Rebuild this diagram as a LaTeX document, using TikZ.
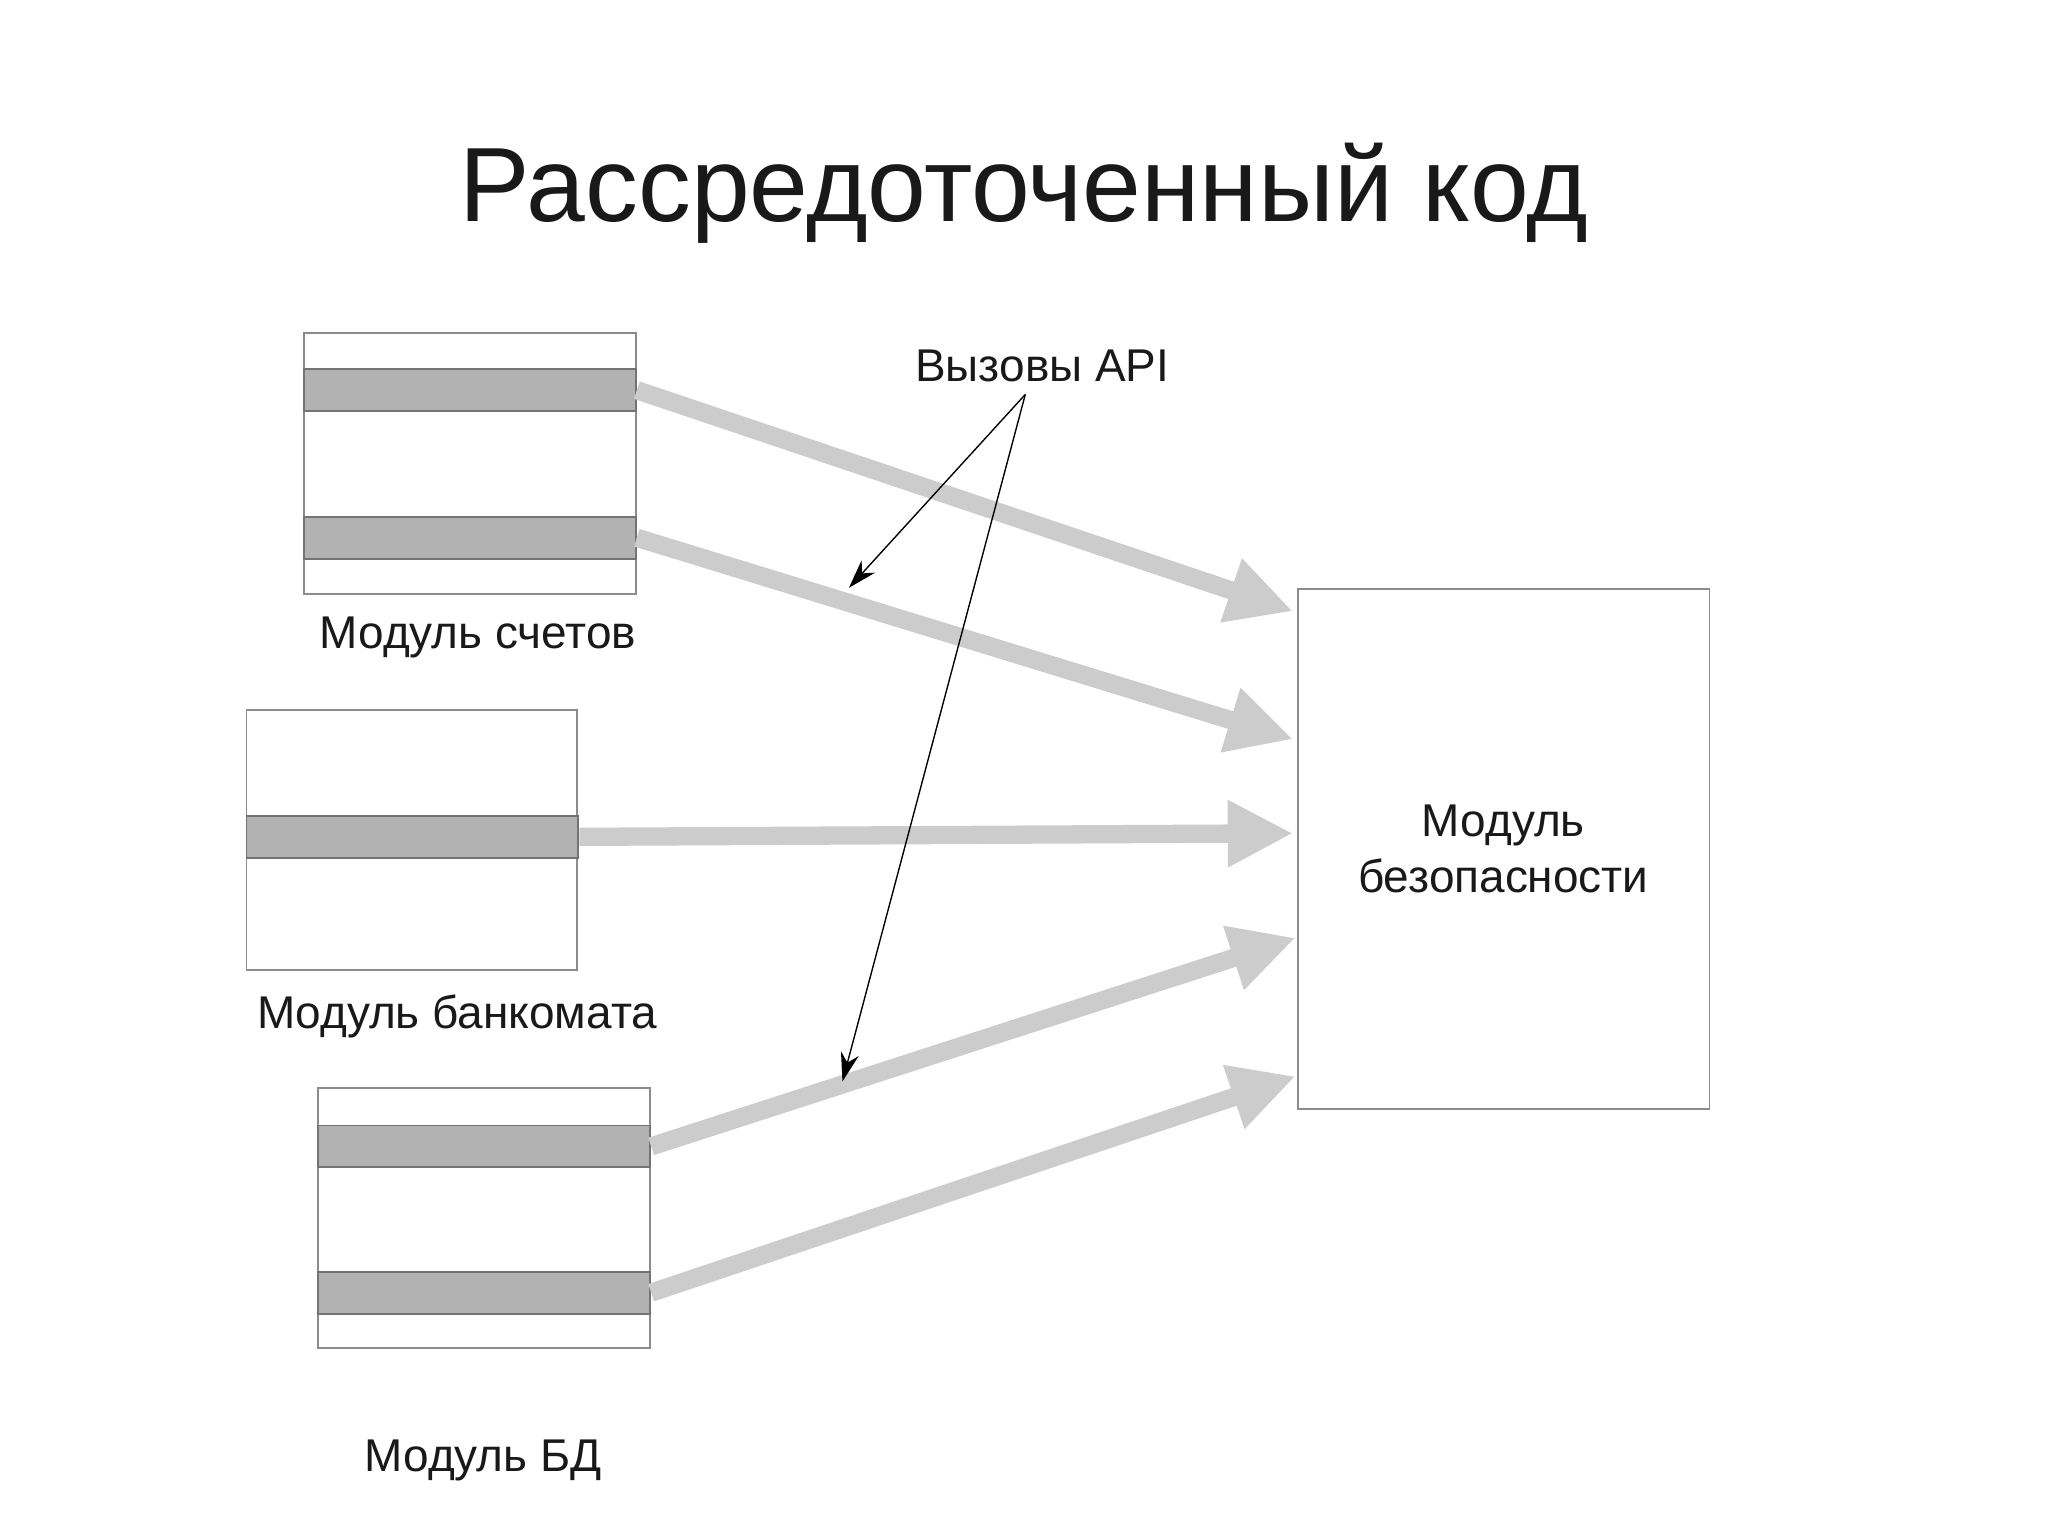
\documentclass[tikz,border=0pt]{standalone}
\usepackage{fontspec}
\setmainfont{Liberation Sans}
\usetikzlibrary{arrows.meta}
\begin{document}
\begin{tikzpicture}[x=0.01cm,y=-0.01cm,
  modbox/.style={draw=black!45,line width=0.4pt,fill=white,inner sep=0,anchor=north west},
  bar/.style={draw=black!55,line width=0.4pt,fill=black!30,inner sep=0,anchor=north west,minimum width=2.54cm,minimum height=0.32cm},
  lbl/.style={font=\fontsize{10}{12}\selectfont,text=black!90},
  big/.style={draw=black!20,line width=0.14cm,-{Triangle[length=0.5cm,width=0.48cm]}},
  thin/.style={draw=black,line width=0.3pt,-{Stealth[length=0.22cm,width=0.14cm]}}]
\useasboundingbox (0,0) rectangle (1568,1176);
\node[font=\fontsize{23}{27}\selectfont,text=black!90] (title) at (784,148) {Рассредоточенный код};
% module 1
\node[modbox,minimum width=2.54cm,minimum height=2.0cm] (m1) at (232,254) {};
\node[bar] (b11) at (232,282) {};
\node[bar] (b12) at (232,395) {};
\node[lbl] (l1) at (366,488) {Модуль счетов};
% module 2
\node[modbox,minimum width=2.53cm,minimum height=1.99cm] (m2) at (188,543) {};
\node[bar] (b21) at (188,624) {};
\node[lbl] (l2) at (350,778) {Модуль банкомата};
% module 3
\node[modbox,minimum width=2.54cm,minimum height=1.99cm] (m3) at (243,832) {};
\node[bar] (b31) at (243,861) {};
\node[bar] (b32) at (243,973) {};
\node[lbl] (l3) at (370,1118) {Модуль БД};
% security
\node[modbox,minimum width=3.15cm,minimum height=3.98cm] (sec) at (993,450) {};
\node[lbl,align=center] (sl) at (1151,650) {Модуль\\безопасности};
\coordinate (t1) at (990,468);
\coordinate (t2) at (990,566);
\coordinate (t3) at (990,638);
\coordinate (t4) at (992,718);
\coordinate (t5) at (992,824);
\draw[big] (b11.east) -- (t1);
\draw[big] (b12.east) -- (t2);
\draw[big] (b21.east) -- (t3);
\draw[big] (b31.east) -- (t4);
\draw[big] (b32.east) -- (t5);
\node[lbl] (api) at (798,280) {Вызовы API};
\coordinate (a0) at (785,302);
\coordinate (a1) at (650,450);
\coordinate (a2) at (645,828);
\draw[thin] (a0) -- (a1);
\draw[thin] (a0) -- (a2);
\end{tikzpicture}
\end{document}
